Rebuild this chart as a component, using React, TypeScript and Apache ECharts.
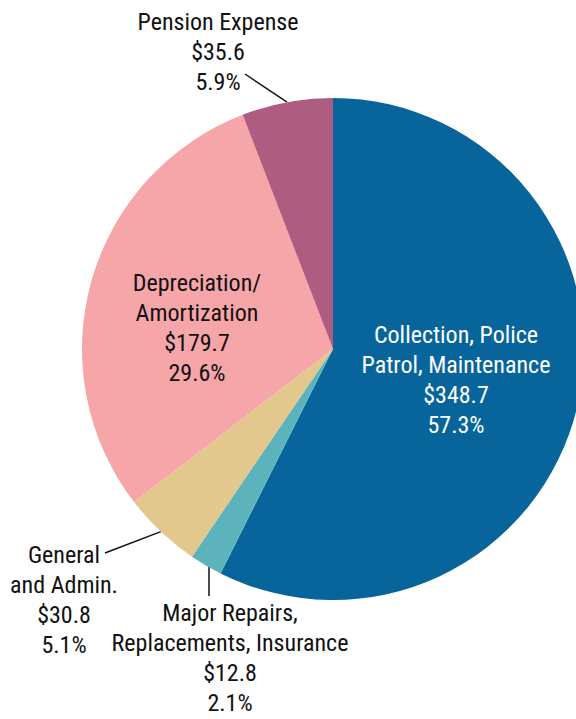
import React, { useEffect, useRef } from 'react';
import * as echarts from 'echarts';

const categories = [
  'Collection, Police\nPatrol, Maintenance',
  'Major Repairs,\nReplacements, Insurance',
  'General\nand Admin.',
  'Depreciation/\nAmortization',
  'Pension Expense',
];
const amounts = [348.7, 12.8, 30.8, 179.7, 35.6];
const percents = ['57.3%', '2.1%', '5.1%', '29.6%', '5.9%'];
const colors = ['#07659c', '#5cb3bb', '#e3c88d', '#f6a5a9', '#ae5c7f'];
const textColors = ['#ffffff', '#111111', '#111111', '#111111', '#111111'];
const insideLabel = [true, false, false, true, false];

// label block centres and leader-line end points (layout only)
const labelCenters = [[456, 380], [230, 658], [64, 600], [197, 328], [218, 52]];
const lineEnds: (number[] | null)[] = [null, [209, 596], [105, 553], null, [245, 74]];

const FONT = "'Liberation Sans Narrow', 'Arial Narrow', 'Roboto Condensed', 'DejaVu Sans Condensed', sans-serif";

export default function App() {
  const ref = useRef<HTMLDivElement>(null);
  useEffect(() => {
    if (!ref.current) return;
    const chart = echarts.init(ref.current, null, { renderer: 'svg' });
    const cx = 333, cy = 349, r = 251;
    const total = amounts.reduce((a, b) => a + b, 0);
    const data = categories.map((name, i) => ({
      name,
      value: amounts[i],
      itemStyle: { color: colors[i] },
      label: {
        position: insideLabel[i] ? 'inside' : 'outside',
        color: textColors[i],
      },
      labelLine: { show: !insideLabel[i] },
    }));
    chart.setOption({
      animation: false,
      backgroundColor: '#ffffff',
      series: [
        {
          type: 'pie',
          center: [cx, cy],
          radius: [0, r],
          startAngle: 90,
          clockwise: true,
          data,
          itemStyle: { borderWidth: 0 },
          label: {
            show: true,
            fontFamily: FONT,
            fontSize: 24,
            lineHeight: 30,
            align: 'center',
            overflow: 'none',
            formatter: (p: any) => `${p.name}\n$${p.value.toFixed(1)}\n${percents[p.dataIndex]}`,
          },
          labelLine: {
            show: true,
            lineStyle: { color: '#111111', width: 1.5 },
          },
          labelLayout: (params: any) => {
            const i = params.dataIndex;
            const [lx, ly] = labelCenters[i];
            const res: any = { x: lx, y: ly, align: 'center', verticalAlign: 'middle' };
            const end = lineEnds[i];
            if (end) {
              // leader-line start on the slice edge at its mid angle
              let before = 0;
              for (let k = 0; k < i; k++) before += amounts[k];
              const mid = ((before + amounts[i] / 2) / total) * Math.PI * 2;
              let sx = cx + r * Math.sin(mid);
              const sy = cy - r * Math.cos(mid);
              if (i === 1) sx = end[0];
              res.labelLinePoints = [[sx, sy], [end[0], end[1]], [end[0], end[1]]];
            }
            return res;
          },
        },
      ],
    });
    return () => chart.dispose();
  }, []);
  return (
    <div
      ref={ref}
      style={{ position: 'fixed', left: 0, top: 0, width: 576, height: 719 }}
    />
  );
}
